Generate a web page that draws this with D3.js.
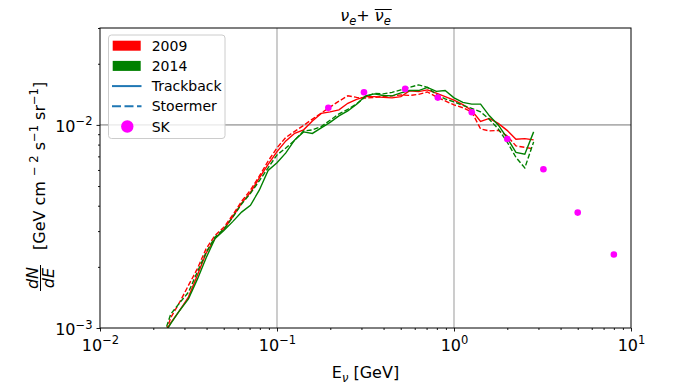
<!DOCTYPE html>
<html lang="en">
<head>
    <meta charset="UTF-8">
    <script src="https://d3js.org/d3.v7.min.js" charset="utf-8"></script>
    <title>nu_e flux</title>
    <style>
        body { margin: 0; background: #fff; }
        svg text { font-family: "DejaVu Sans", sans-serif; fill: #000; }
    </style>
</head>
<body>
    <div id="chart"></div>
    <script>
        const svgWidth = 676;
        const svgHeight = 384;
        const margin = {top: 28, right: 45, bottom: 56, left: 100};

        // energy bins [GeV]
        const energies = [0.0224, 0.0251, 0.0282, 0.0316, 0.0355, 0.0398, 0.0447, 0.0501, 0.0562, 0.0631,
            0.0708, 0.0794, 0.0891, 0.1, 0.1122, 0.1259, 0.1413, 0.1585, 0.1778, 0.1995,
            0.2239, 0.2512, 0.2818, 0.3162, 0.3548, 0.3981, 0.4467, 0.5012, 0.5623, 0.6310,
            0.7079, 0.7943, 0.8913, 1.0, 1.122, 1.259, 1.413, 1.585, 1.778, 1.995,
            2.239, 2.512, 2.818];

        // 2009, trackback
        const flux2009Track = [0.00091, 0.00106, 0.00122, 0.00142, 0.00182, 0.00234, 0.00277, 0.00306, 0.00353, 0.00412,
            0.00465, 0.00547, 0.00639, 0.00739, 0.00834, 0.00909, 0.00946, 0.01046, 0.01140, 0.01159,
            0.01186, 0.01278, 0.01335, 0.01378, 0.01378, 0.01366, 0.01358, 0.01378, 0.01474, 0.01459,
            0.01487, 0.01433, 0.01378, 0.01323, 0.01258, 0.01178, 0.01040, 0.01076, 0.01017, 0.00940,
            0.00850, 0.00856, 0.00844];
        // 2009, stoermer
        const flux2009Stoer = [0.00083, 0.001125, 0.00134, 0.00162, 0.00196, 0.00246, 0.00286, 0.00313, 0.00360, 0.00421,
            0.00477, 0.00559, 0.00664, 0.00771, 0.00868, 0.00929, 0.00994, 0.01068, 0.01143, 0.01224,
            0.01309, 0.01390, 0.01366, 0.01354, 0.01366, 0.01381, 0.01390, 0.01405, 0.01397, 0.01413,
            0.01454, 0.01375, 0.01313, 0.01255, 0.01215, 0.01159, 0.00956, 0.00934, 0.00940, 0.00883,
            0.00788, 0.00775, 0.00762];
        // 2014, trackback
        const flux2014Track = [0.00090, 0.00105, 0.00122, 0.00139, 0.00174, 0.00222, 0.00276, 0.00302, 0.00334, 0.00372,
            0.00402, 0.00477, 0.00597, 0.00651, 0.00728, 0.00844, 0.00924, 0.00908, 0.00966, 0.01029,
            0.01108, 0.01171, 0.01264, 0.01390, 0.01421, 0.01396, 0.01390, 0.01438, 0.01476, 0.01476,
            0.01530, 0.01462, 0.01476, 0.01358, 0.01291, 0.01265, 0.01265, 0.01108, 0.01000, 0.00863,
            0.00732, 0.00717, 0.00924];
        // 2014, stoermer
        const flux2014Stoer = [0.00087, 0.00117, 0.00133, 0.00150, 0.00189, 0.00236, 0.00281, 0.00307, 0.00351, 0.00408,
            0.00460, 0.00530, 0.00615, 0.00712, 0.00769, 0.00841, 0.00934, 0.00945, 0.00981, 0.01054,
            0.01133, 0.01193, 0.01269, 0.01375, 0.01429, 0.01421, 0.01446, 0.01487, 0.01532, 0.01574,
            0.01530, 0.01413, 0.01343, 0.01298, 0.01248, 0.01206, 0.01159, 0.01064, 0.00956, 0.00825,
            0.00692, 0.00614, 0.00825];

        // Super-Kamiokande points
        const skEnergy = [0.195, 0.31, 0.53, 0.81, 1.26, 2.0, 3.2, 5.0, 8.0];
        const skFlux = [0.01213, 0.01449, 0.01504, 0.01363, 0.01155, 0.00853, 0.00605, 0.0037, 0.0023];

        const xMajor = [0.01, 0.1, 1, 10];
        const xMajorExp = ["\u22122", "\u22121", "0", "1"];
        const yMajor = [0.001, 0.01];
        const yMajorExp = ["\u22123", "\u22122"];

        const series = [
            {values: flux2009Track, color: "#ff0000", dash: null},
            {values: flux2009Stoer, color: "#ff0000", dash: "5,2.2"},
            {values: flux2014Track, color: "#008000", dash: null},
            {values: flux2014Stoer, color: "#008000", dash: "5,2.2"}
        ];

        const svg = d3.select("#chart").append("svg")
            .attr("width", svgWidth)
            .attr("height", svgHeight);

        const x = d3.scaleLog().domain([0.01, 10]).range([margin.left, svgWidth - margin.right]);
        const y = d3.scaleLog().domain([0.001, 0.03]).range([svgHeight - margin.bottom, margin.top]);

        svg.append("defs").append("clipPath").attr("id", "plotclip")
            .append("rect")
            .attr("x", margin.left).attr("y", margin.top)
            .attr("width", x.range()[1] - x.range()[0])
            .attr("height", y.range()[0] - y.range()[1]);

        // grid
        svg.append("g").selectAll("line.gx").data([0.1, 1]).enter().append("line")
            .attr("x1", d => x(d)).attr("x2", d => x(d))
            .attr("y1", y.range()[1]).attr("y2", y.range()[0])
            .attr("stroke", "#c0c0c0").attr("stroke-width", 1.6);
        svg.append("g").selectAll("line.gy").data([0.01]).enter().append("line")
            .attr("y1", d => y(d)).attr("y2", d => y(d))
            .attr("x1", x.range()[0]).attr("x2", x.range()[1])
            .attr("stroke", "#b0b0b0").attr("stroke-width", 1.6);

        // curves
        const line = d3.line()
            .x((d, i) => x(energies[i]))
            .y(d => y(d));

        const curves = svg.append("g").attr("clip-path", "url(#plotclip)");
        series.forEach(s => {
            curves.append("path")
                .attr("d", line(s.values))
                .attr("fill", "none")
                .attr("stroke", s.color)
                .attr("stroke-width", 1.4)
                .attr("stroke-dasharray", s.dash);
        });

        curves.selectAll("circle.sk").data(skEnergy).enter().append("circle")
            .attr("cx", d => x(d))
            .attr("cy", (d, i) => y(skFlux[i]))
            .attr("r", 3.3)
            .attr("fill", "#ff00ff");

        // axes
        const xMinor = [];
        const yMinor = [];
        [0.01, 0.1, 1].forEach(b => { for (let k = 2; k <= 9; k++) xMinor.push(b * k); });
        [0.001, 0.01].forEach(b => { for (let k = 2; k <= 9; k++) if (b * k <= 0.03) yMinor.push(b * k); });

        const bottom = svgHeight - margin.bottom;
        svg.append("g").attr("transform", `translate(0,${bottom})`)
            .call(d3.axisBottom(x).tickValues(xMinor).tickSize(2).tickFormat(""))
            .call(g => g.select(".domain").remove());
        const xAx = svg.append("g").attr("transform", `translate(0,${bottom})`)
            .call(d3.axisBottom(x).tickValues(xMajor).tickSize(3.5).tickPadding(4).tickFormat(""))
            .call(g => g.select(".domain").remove());
        xAx.selectAll(".tick text").each(function(d, i) {
            const t = d3.select(this).attr("font-size", 16).attr("dy", "0.95em");
            t.append("tspan").text("10");
            t.append("tspan").attr("font-size", 11.5).attr("dy", "-0.55em").text(xMajorExp[i]);
        });

        svg.append("g").attr("transform", `translate(${margin.left},0)`)
            .call(d3.axisLeft(y).tickValues(yMinor).tickSize(2).tickFormat(""))
            .call(g => g.select(".domain").remove());
        const yAx = svg.append("g").attr("transform", `translate(${margin.left},0)`)
            .call(d3.axisLeft(y).tickValues(yMajor).tickSize(3.5).tickPadding(4).tickFormat(""))
            .call(g => g.select(".domain").remove());
        yAx.selectAll(".tick text").each(function(d, i) {
            const t = d3.select(this).attr("font-size", 16).attr("dy", "0.4em");
            t.append("tspan").text("10");
            t.append("tspan").attr("font-size", 11.5).attr("dy", "-0.55em").text(yMajorExp[i]);
        });
        svg.selectAll(".tick line").attr("stroke", "#000").attr("stroke-width", 0.9);

        // frame
        svg.append("rect")
            .attr("x", x.range()[0]).attr("y", y.range()[1])
            .attr("width", x.range()[1] - x.range()[0])
            .attr("height", y.range()[0] - y.range()[1])
            .attr("fill", "none").attr("stroke", "#000").attr("stroke-width", 1);

        // title: nu_e + overline(nu_e)
        const cx = (x.range()[0] + x.range()[1]) / 2;
        const title = svg.append("text").attr("x", cx).attr("y", 21)
            .attr("text-anchor", "middle").attr("font-size", 16);
        title.append("tspan").attr("font-style", "italic").text("\u03bd");
        title.append("tspan").attr("font-style", "italic").attr("font-size", 11.5).attr("dy", 4).text("e");
        title.append("tspan").attr("dy", -4).text("+ ");
        title.append("tspan").attr("font-style", "italic").text("\u03bd");
        title.append("tspan").attr("font-style", "italic").attr("font-size", 11.5).attr("dy", 4).text("e");
        const tn = title.node();
        const ox1 = tn.getStartPositionOfChar(4).x;
        const ox2 = tn.getEndPositionOfChar(5).x;
        svg.append("line").attr("x1", ox1).attr("x2", ox2 + 1)
            .attr("y1", 9.5).attr("y2", 9.5)
            .attr("stroke", "#000").attr("stroke-width", 1);

        // x label
        const xl = svg.append("text").attr("x", cx).attr("y", 378)
            .attr("text-anchor", "middle").attr("font-size", 16);
        xl.append("tspan").text("E");
        xl.append("tspan").attr("font-size", 11.5).attr("font-style", "italic").attr("dy", 4).text("\u03bd");
        xl.append("tspan").attr("dy", -4).text(" [GeV]");

        // y label
        const yl = svg.append("g").attr("transform", `translate(40,${(y.range()[0] + y.range()[1]) / 2}) rotate(-90)`);
        yl.append("text").attr("x", -100).attr("y", -2.5).attr("text-anchor", "middle")
            .attr("font-size", 16).attr("font-style", "italic").text("dN");
        yl.append("text").attr("x", -100).attr("y", 13.5).attr("text-anchor", "middle")
            .attr("font-size", 16).attr("font-style", "italic").text("dE");
        yl.append("line").attr("x1", -113).attr("x2", -87).attr("y1", 0.5).attr("y2", 0.5)
            .attr("stroke", "#000").attr("stroke-width", 1);
        const unit = yl.append("text").attr("x", -72).attr("y", 5).attr("font-size", 16);
        unit.append("tspan").text("[GeV cm ");
        unit.append("tspan").attr("font-size", 11.5).attr("dy", -7).text("\u2212 2");
        unit.append("tspan").attr("dy", 7).text(" s");
        unit.append("tspan").attr("font-size", 11.5).attr("dy", -7).text("\u22121");
        unit.append("tspan").attr("dy", 7).text(" sr");
        unit.append("tspan").attr("font-size", 11.5).attr("dy", -7).text("\u22121");
        unit.append("tspan").attr("dy", 7).text("]");

        // legend
        const lg = svg.append("g").attr("transform", "translate(108.5,35)");
        lg.append("rect").attr("width", 116.5).attr("height", 103.5).attr("rx", 3)
            .attr("fill", "#fff").attr("fill-opacity", 0.8)
            .attr("stroke", "#cccccc").attr("stroke-width", 1);
        const legendItems = [
            {label: "2009", kind: "patch", color: "#ff0000"},
            {label: "2014", kind: "patch", color: "#008000"},
            {label: "Trackback", kind: "line", color: "#1f77b4", dash: null},
            {label: "Stoermer", kind: "line", color: "#1f77b4", dash: "9,3.5"},
            {label: "SK", kind: "dot", color: "#ff00ff"}
        ];
        legendItems.forEach((d, i) => {
            const ry = 10.7 + i * 20.2;
            if (d.kind === "patch") {
                lg.append("rect").attr("x", 4.2).attr("y", ry - 5).attr("width", 28).attr("height", 10)
                    .attr("fill", d.color);
            } else if (d.kind === "line") {
                lg.append("line").attr("x1", 3.5).attr("x2", 33).attr("y1", ry).attr("y2", ry)
                    .attr("stroke", d.color).attr("stroke-width", 2)
                    .attr("stroke-dasharray", d.dash);
            } else {
                lg.append("circle").attr("cx", 18.8).attr("cy", ry).attr("r", 6.2).attr("fill", d.color);
            }
            lg.append("text").attr("x", 43.2).attr("y", ry).attr("dy", "0.36em")
                .attr("font-size", 14).text(d.label);
        });
    </script>
</body>
</html>
